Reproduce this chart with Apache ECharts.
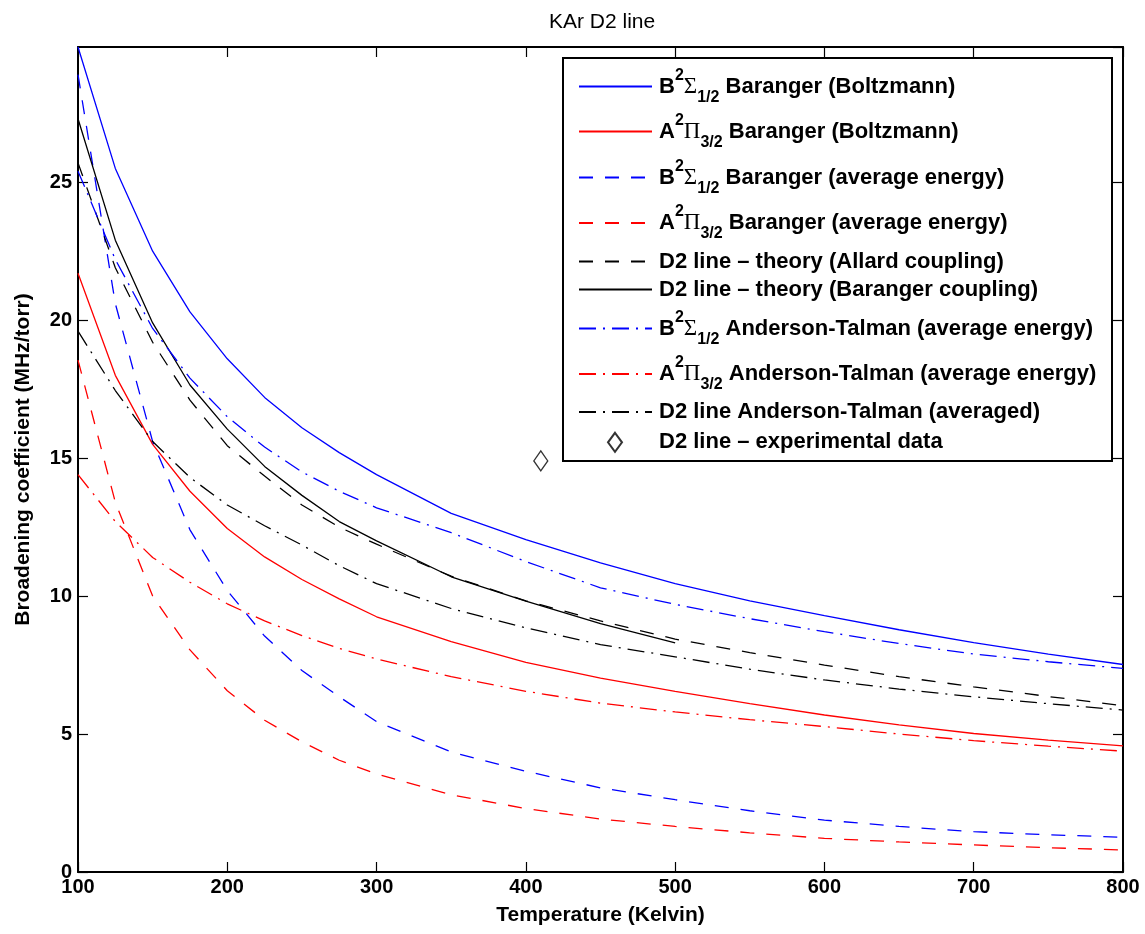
<!DOCTYPE html>
<html><head><meta charset="utf-8">
<script src="https://cdn.jsdelivr.net/npm/echarts@6/dist/echarts.min.js"></script>
<style>html,body{margin:0;padding:0;background:#fff}#c{width:1145px;height:934px}</style>
</head><body><div id="c"></div>
<script>
// ---- data ----
const temps = [100,125,150,175,200,225,250,275,300,350,400,450,500,550,600,650,700,750,800];
const tempsShort = [100,125,150,175,200,225,250,275,300,350,400,450,500];
const bSigmaBoltz   = [29.9,25.5,22.5,20.3,18.6,17.2,16.1,15.2,14.4,13.0,12.05,11.2,10.45,9.83,9.29,8.78,8.31,7.9,7.52];
const aPiBoltz      = [21.7,18.0,15.5,13.8,12.45,11.42,10.6,9.9,9.25,8.35,7.6,7.03,6.55,6.1,5.69,5.33,5.02,4.78,4.57];
const bSigmaAvg     = [28.9,20.6,15.6,12.4,10.2,8.55,7.3,6.35,5.45,4.35,3.65,3.05,2.62,2.22,1.88,1.65,1.46,1.35,1.26];
const aPiAvg        = [18.55,13.4,10.0,8.05,6.57,5.5,4.72,4.05,3.55,2.8,2.3,1.92,1.65,1.42,1.22,1.09,0.98,0.88,0.8];
const d2Allard      = [25.7,21.9,19.2,17.1,15.45,14.35,13.3,12.5,11.88,10.72,9.83,9.1,8.44,7.95,7.5,7.08,6.71,6.36,6.03];
const d2Baranger    = [27.3,22.9,19.9,17.65,16.05,14.7,13.65,12.7,12.0,10.7,9.82,9.0,8.3];
const bSigmaAT      = [25.4,22.2,19.7,17.9,16.5,15.4,14.5,13.8,13.2,12.3,11.25,10.3,9.7,9.18,8.71,8.28,7.9,7.62,7.38];
const aPiAT         = [14.4,12.7,11.4,10.5,9.72,9.1,8.57,8.1,7.72,7.08,6.55,6.12,5.8,5.52,5.27,5.0,4.76,4.56,4.38];
const d2AT          = [19.6,17.45,15.6,14.3,13.3,12.55,11.85,11.1,10.45,9.55,8.85,8.24,7.8,7.35,6.96,6.63,6.35,6.1,5.87];
const expT = [410];
const expVal = [14.9];
const xTicks = [100,200,300,400,500,600,700,800];
const yTicks = [0,5,10,15,20,25];

const names = [
  'B²Σ₁/₂ Baranger (Boltzmann)',
  'A²Π₃/₂ Baranger (Boltzmann)',
  'B²Σ₁/₂ Baranger (average energy)',
  'A²Π₃/₂ Baranger (average energy)',
  'D2 line – theory (Allard coupling)',
  'D2 line – theory (Baranger coupling)',
  'B²Σ₁/₂ Anderson-Talman (average energy)',
  'A²Π₃/₂ Anderson-Talman (average energy)',
  'D2 line Anderson-Talman (averaged)',
  'D2 line – experimental data'
];
const richText = {};
richText[names[0]] = '{n|B}{sup|2}{g|Σ}{sub|1/2}{n| Baranger (Boltzmann)}';
richText[names[1]] = '{n|A}{sup|2}{g|Π}{sub|3/2}{n| Baranger (Boltzmann)}';
richText[names[2]] = '{n|B}{sup|2}{g|Σ}{sub|1/2}{n| Baranger (average energy)}';
richText[names[3]] = '{n|A}{sup|2}{g|Π}{sub|3/2}{n| Baranger (average energy)}';
richText[names[4]] = '{p|D2 line – theory (Allard coupling)}';
richText[names[5]] = '{p|D2 line – theory (Baranger coupling)}';
richText[names[6]] = '{n|B}{sup|2}{g|Σ}{sub|1/2}{n| Anderson-Talman (average energy)}';
richText[names[7]] = '{n|A}{sup|2}{g|Π}{sub|3/2}{n| Anderson-Talman (average energy)}';
richText[names[8]] = '{p|D2 line Anderson-Talman (averaged)}';
richText[names[9]] = '{sp|}{p|D2 line – experimental data}';

function pairs(xs, ys){ return ys.map((v,i)=>[xs[i], v]); }

const FONT = 'Liberation Sans';
const BLUE = '#0000ff', RED = '#ff0000', BLACK = '#000000';
const DASH = [14, 12];
const DASHDOT = [17, 7, 2, 7];
const LW = 1.3;

function lineSeries(name, xs, ys, color, type){
  return {name, type:'line', data: pairs(xs, ys), symbol:'none', showSymbol:false,
    lineStyle:{color, width:LW, type}, itemStyle:{color}, silent:true, z:2};
}

const series = [
  lineSeries(names[0], temps, bSigmaBoltz, BLUE, 'solid'),
  lineSeries(names[1], temps, aPiBoltz, RED, 'solid'),
  lineSeries(names[2], temps, bSigmaAvg, BLUE, DASH),
  lineSeries(names[3], temps, aPiAvg, RED, DASH),
  lineSeries(names[4], temps, d2Allard, BLACK, DASH),
  lineSeries(names[5], tempsShort, d2Baranger, BLACK, 'solid'),
  lineSeries(names[6], temps, bSigmaAT, BLUE, DASHDOT),
  lineSeries(names[7], temps, aPiAT, RED, DASHDOT),
  lineSeries(names[8], temps, d2AT, BLACK, DASHDOT),
  {name: names[9], type:'scatter', data: pairs(expT, expVal), symbol:'diamond', symbolSize:[14,20],
    itemStyle:{color:'#ffffff', borderColor:'#000', borderWidth:1.3}, z:3}
];

const rowCenters = [86.5,131.5,177.5,223,262.5,290.5,328.5,374,413,443.3];
const supRow = [true,true,true,true,false,false,true,true,false,false];
const LH_SUP = 38, LH_PLAIN = 24;
const FS = 22;
const richStyles = {
  n:{fontFamily:FONT, fontSize:FS, fontWeight:'bold', color:'#000', lineHeight:LH_SUP, verticalAlign:'middle'},
  g:{fontFamily:'Liberation Serif', fontSize:23, color:'#000', lineHeight:LH_SUP, verticalAlign:'middle'},
  sup:{fontFamily:FONT, fontSize:16, fontWeight:'bold', color:'#000', lineHeight:16, verticalAlign:'top'},
  sub:{fontFamily:FONT, fontSize:16, fontWeight:'bold', color:'#000', lineHeight:16, verticalAlign:'bottom'},
  p:{fontFamily:FONT, fontSize:FS, fontWeight:'bold', color:'#000', lineHeight:LH_PLAIN, verticalAlign:'middle'},
  sp:{width:32, lineHeight:LH_PLAIN}
};

const legends = names.map((nm, i) => {
  const H = supRow[i] ? LH_SUP : LH_PLAIN;
  const isExp = i === 9;
  const lg = {
    data:[nm], orient:'vertical', padding:0, itemGap:0,
    left: isExp ? 607 : 578,
    top: rowCenters[i] - H/2,
    itemWidth: isExp ? 14 : 73,
    itemHeight: isExp ? 19 : 14,
    selectedMode:false, z:10,
    formatter: (name) => richText[name],
    textStyle:{rich: richStyles, fontFamily:FONT, padding:[0,0,0,isExp ? 0 : 2]}
  };
  if (!isExp) {
    lg.itemStyle = {color:'rgba(0,0,0,0)', borderColor:'rgba(0,0,0,0)', borderWidth:0, opacity:0};
  }
  return lg;
});

const axisCommon = {
  axisLine:{show:true, onZero:false, lineStyle:{color:'#000', width:2}},
  axisTick:{show:true, inside:true, length:10, lineStyle:{color:'#000', width:1.2}},
  splitLine:{show:false}
};

const option = {
  animation:false,
  backgroundColor:'#ffffff',
  title:{text:'KAr D2 line', left:544, top:7,
    textStyle:{fontFamily:FONT, fontSize:21, fontWeight:'normal', color:'#000'}},
  grid:{left:78, top:47, width:1045, height:825, containLabel:false},
  graphic:[{type:'rect', shape:{x:563, y:58, width:549, height:403}, z:9,
    style:{fill:'#ffffff', stroke:'#000', lineWidth:2}}],
  legend: legends,
  xAxis:[
    Object.assign({type:'value', position:'bottom', min:xTicks[0], max:xTicks[xTicks.length-1], interval:100,
      name:'Temperature (Kelvin)', nameLocation:'middle', nameGap:33,
      nameTextStyle:{fontFamily:FONT, fontSize:21, fontWeight:'bold', color:'#000'},
      axisLabel:{fontFamily:FONT, fontSize:20, fontWeight:'bold', color:'#000', margin:5}}, axisCommon),
    Object.assign({type:'value', position:'top', min:xTicks[0], max:xTicks[xTicks.length-1], interval:100,
      axisLabel:{show:false}}, axisCommon)
  ],
  yAxis:[
    Object.assign({type:'value', position:'left', min:yTicks[0], max:29.9, interval:5,
      name:'Broadening coefficient (MHz/torr)', nameLocation:'middle', nameGap:44,
      nameTextStyle:{fontFamily:FONT, fontSize:21, fontWeight:'bold', color:'#000'},
      axisLabel:{fontFamily:FONT, fontSize:20, fontWeight:'bold', color:'#000', margin:6, showMaxLabel:false}}, axisCommon),
    Object.assign({type:'value', position:'right', min:yTicks[0], max:29.9, interval:5,
      axisLabel:{show:false}}, axisCommon)
  ],
  series
};
const chart = echarts.init(document.getElementById('c'), null, {renderer:'canvas'});
chart.setOption(option);
</script>
</body></html>
